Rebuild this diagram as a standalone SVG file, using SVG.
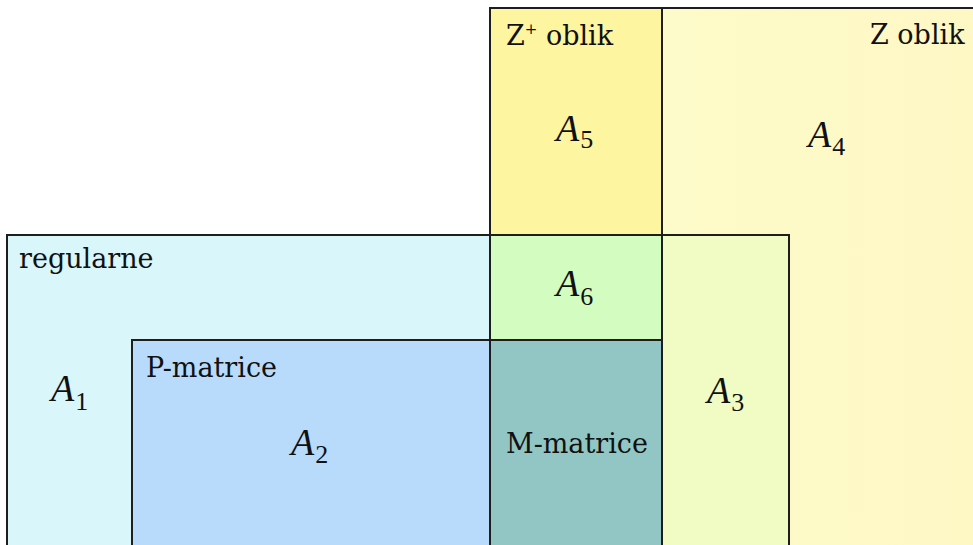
<svg xmlns="http://www.w3.org/2000/svg" width="973" height="545" viewBox="0 0 973 545">
  <defs>
    <linearGradient id="zGrad" x1="0" y1="0" x2="1" y2="0">
      <stop offset="0" stop-color="#fefdcc"/>
      <stop offset="1" stop-color="#fdf7c4"/>
    </linearGradient>
    <style>
      .box { stroke: #1e1e1e; stroke-width: 2; }
      .lbl { font-family: "DejaVu Serif", serif; font-size: 27px; fill: #111; }
      .sym { font-family: "Liberation Serif", serif; font-style: italic; font-size: 38px; fill: #111; }
      .sub { font-family: "Liberation Serif", serif; font-size: 26px; fill: #111; }
    </style>
  </defs>

  <rect width="973" height="545" fill="#ffffff"/>

  <!-- Z oblik -->
  <g id="z-oblik">
    <rect class="box" x="490" y="8" width="520" height="560" fill="url(#zGrad)"/>
    <text class="lbl" x="870" y="44">Z oblik</text>
    <text x="808" y="147"><tspan class="sym">A</tspan><tspan class="sub" dx="1" dy="8">4</tspan></text>
  </g>

  <!-- Z+ oblik -->
  <g id="zplus-oblik">
    <rect class="box" x="490" y="8" width="172" height="560" fill="#fdf5a0"/>
    <text class="lbl" x="506" y="45">Z<tspan font-size="15" dy="-11">+</tspan><tspan dy="11"> oblik</tspan></text>
    <text x="556" y="141"><tspan class="sym">A</tspan><tspan class="sub" dx="1" dy="7">5</tspan></text>
  </g>

  <!-- regularne -->
  <g id="regularne">
    <rect class="box" x="7" y="235" width="782" height="340" fill="#d9f6fb"/>
    <text class="lbl" x="19" y="268">regularne</text>
    <text x="51" y="401"><tspan class="sym">A</tspan><tspan class="sub" dx="1" dy="9">1</tspan></text>
  </g>

  <!-- regularne ∩ Z oblik -->
  <g id="a3">
    <rect class="box" x="662" y="235" width="127" height="340" fill="#f0fcc4"/>
    <text x="707" y="403"><tspan class="sym">A</tspan><tspan class="sub" dx="1" dy="8">3</tspan></text>
  </g>

  <!-- regularne ∩ Z+ oblik -->
  <g id="a6">
    <rect class="box" x="490" y="235" width="172" height="105" fill="#d3fcc0"/>
    <text x="556" y="296"><tspan class="sym">A</tspan><tspan class="sub" dx="1" dy="9">6</tspan></text>
  </g>

  <!-- P-matrice -->
  <g id="p-matrice">
    <rect class="box" x="132" y="340" width="358" height="240" fill="#b8dbfb"/>
    <text class="lbl" x="146" y="377">P-matrice</text>
    <text x="291" y="455"><tspan class="sym">A</tspan><tspan class="sub" dx="1" dy="8">2</tspan></text>
  </g>

  <!-- M-matrice -->
  <g id="m-matrice">
    <rect class="box" x="490" y="340" width="172" height="240" fill="#91c6c4"/>
    <text class="lbl" x="506" y="453">M-matrice</text>
  </g>
</svg>
